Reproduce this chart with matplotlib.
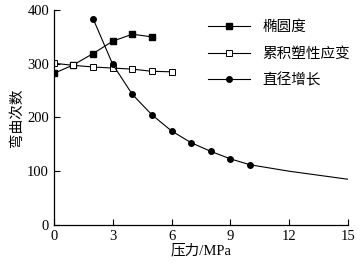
import matplotlib
matplotlib.use("Agg")
import matplotlib.pyplot as plt

# data
x_ellip = [0, 1, 2, 3, 4, 5]
ellip = [282, 298, 319, 342, 355, 350]

x_strain = [0, 1, 2, 3, 4, 5, 6]
strain = [301, 297, 294, 292, 290, 286, 285]

x_diam = [2, 3, 4, 5, 6, 7, 8, 9, 10, 12, 15]
diam = [384, 299, 243, 205, 175, 153, 137, 123, 112, 100, 85]
diam_marked = 9  # markers only on the first 9 points

labels = ['椭圆度', '累积塑性应变', '直径增长']
xticks = [0, 3, 6, 9, 12, 15]
yticks = [0, 100, 200, 300, 400]

serif = ['Liberation Serif', 'Noto Sans CJK SC']
cjk = ['Noto Sans CJK SC', 'DejaVu Sans']

fig = plt.figure(figsize=(3.64, 2.64), dpi=100)
ax = fig.add_axes([0.148, 0.148, 0.808, 0.814])

ax.plot(x_ellip, ellip, '-s', color='black', lw=0.8, ms=3.8,
        mfc='black', label=labels[0])
ax.plot(x_strain, strain, '-s', color='black', lw=0.8, ms=3.8,
        mfc='white', mew=0.7, label=labels[1])
ax.plot(x_diam, diam, '-o', color='black', lw=0.8, ms=4.0,
        markevery=list(range(diam_marked)), label=labels[2])

ax.set_xlim(0, 15)
ax.set_ylim(0, 400)
ax.set_xticks(xticks)
ax.set_yticks(yticks)
ax.tick_params(direction='in', length=4, width=0.8, labelsize=10.5)
for lab in ax.get_xticklabels() + ax.get_yticklabels():
    lab.set_family(serif)

for s in ['top', 'right']:
    ax.spines[s].set_visible(False)
for s in ['left', 'bottom']:
    ax.spines[s].set_linewidth(0.9)

ax.set_xlabel('压力/MPa', family=serif, fontsize=10.5, labelpad=1)
ax.set_ylabel('弯曲次数', family=cjk, fontsize=10.5, labelpad=2)

leg = ax.legend(loc='upper left', bbox_to_anchor=(0.48, 1.015), frameon=False,
                handlelength=2.9, handletextpad=0.8, labelspacing=0.87,
                prop={'family': cjk, 'size': 10.5})

fig.savefig('out.png', dpi=100)
